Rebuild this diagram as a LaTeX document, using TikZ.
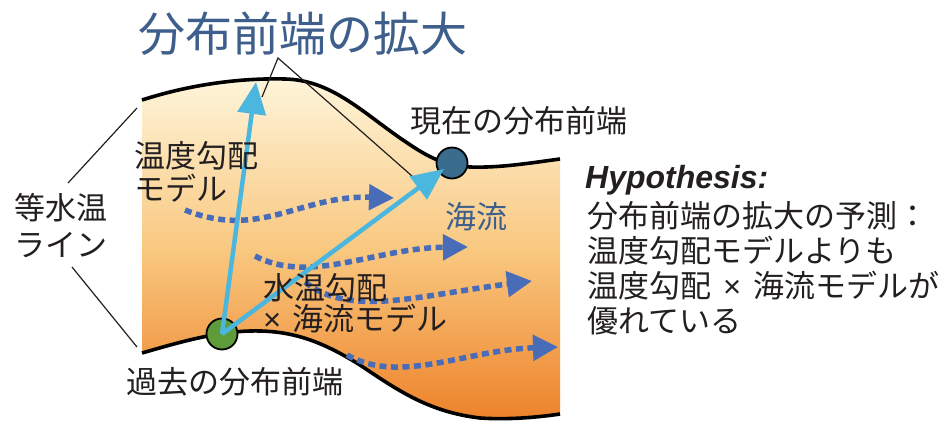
\documentclass[tikz,border=0pt]{standalone}
\usepackage{fontspec}
\setmainfont{Noto Sans CJK JP}
\newfontfamily\hypfont{Liberation Sans}
\usetikzlibrary{arrows.meta}
\definecolor{titleblue}{RGB}{62,95,139}
\definecolor{flowblue}{RGB}{72,108,184}
\definecolor{cyanarrow}{RGB}{75,182,222}
\definecolor{pastgreen}{RGB}{94,156,58}
\definecolor{nowblue}{RGB}{58,108,142}
\definecolor{bandtop}{RGB}{254,245,218}
\definecolor{bandmid}{RGB}{249,200,128}
\definecolor{bandbot}{RGB}{237,130,42}
\definecolor{inkblack}{RGB}{35,31,32}
\begin{document}
\begin{tikzpicture}[x=1pt,y=-1pt,
  lbl/.style={inner sep=0pt, font=\fontsize{31}{34}\selectfont, text=inkblack},
  boundary/.style={line width=3.6pt, draw=black},
  leader/.style={line width=1.2pt, draw=inkblack},
  flow/.style={line width=5.5pt, draw=flowblue, dash pattern=on 7pt off 4.5pt,
    -{Triangle[length=25pt,width=25pt,fill=flowblue]}},
  expand/.style={line width=4.5pt, draw=cyanarrow,
    -{Triangle[length=32pt,width=28pt,fill=cyanarrow]}},
  front/.style={circle, draw=black, line width=1.8pt, minimum size=31pt, inner sep=0pt}
]
\useasboundingbox (0,0) rectangle (945,424);
\fill[white] (0,0) rectangle (945,424);

% band
\shade[top color=bandtop, bottom color=bandbot, middle color=bandmid]
  (142,100) .. controls (195,83) and (245,78) .. (285,79)
  .. controls (330,80) and (360,110) .. (400,138)
  .. controls (425,155) and (440,165) .. (470,167)
  .. controls (500,168) and (530,163) .. (560,159)
  -- (560,414)
  .. controls (540,417) and (510,420) .. (480,418)
  .. controls (430,412) and (400,392) .. (360,365)
  .. controls (320,340) and (290,330) .. (250,331)
  .. controls (215,332) and (180,342) .. (142,353) -- cycle;

\draw[boundary]
  (142,100) .. controls (195,83) and (245,78) .. (285,79)
  .. controls (330,80) and (360,110) .. (400,138)
  .. controls (425,155) and (440,165) .. (470,167)
  .. controls (500,168) and (530,163) .. (560,159);
\draw[boundary]
  (142,353) .. controls (180,342) and (215,332) .. (250,331)
  .. controls (290,330) and (320,340) .. (360,365)
  .. controls (400,392) and (430,412) .. (480,418)
  .. controls (510,420) and (540,417) .. (560,414);

% title and leaders
\node[inner sep=0pt, font=\fontsize{47}{50}\selectfont, text=titleblue] (title) at (303,34) {分布前端の拡大};
\coordinate (tj) at (278,58);
\coordinate (tl) at (262,97);
\coordinate (tr) at (412,176);
\draw[leader] (tl) -- (tj) -- (tr);

% isotherm label and leaders
\node[lbl, align=center, font=\fontsize{31}{37}\selectfont] (iso) at (61,226) {等水温\\ライン};
\coordinate (isoA) at (68,183);
\coordinate (isoB) at (137,108);
\coordinate (isoC) at (72,267);
\coordinate (isoD) at (137,347);
\draw[leader] (isoA) -- (isoB);
\draw[leader] (isoC) -- (isoD);

% current flows
\coordinate (f1s) at (185,210); \coordinate (f1e) at (394,198);
\coordinate (f2s) at (255,256); \coordinate (f2e) at (468,247);
\coordinate (f3s) at (305,282); \coordinate (f3e) at (532,281);
\coordinate (f4s) at (347,355); \coordinate (f4e) at (558,347);
\draw[flow] (f1s) .. controls (260,240) and (300,195) .. (f1e);
\draw[flow] (f2s) .. controls (310,285) and (375,248) .. (f2e);
\draw[flow] (f3s) .. controls (350,318) and (420,295) .. (f3e);
\draw[flow] (f4s) .. controls (400,385) and (465,350) .. (f4e);

% fronts
\node[front, fill=pastgreen] (past) at (222,334) {};
\node[front, fill=nowblue] (now) at (452,163) {};

% expansion arrows
\coordinate (exptip) at (256,82);
\draw[expand] (past.center) -- (exptip);
\draw[expand, shorten >=10pt] (past.center) -- (now.center);

% labels
\node[lbl, anchor=west] (nowlbl) at (410,121) {現在の分布前端};
\node[lbl, anchor=west] (pastlbl) at (126,382) {過去の分布前端};
\node[lbl, anchor=west, align=left, font=\fontsize{31}{33}\selectfont] (gradlbl) at (134,172) {温度勾配\\モデル};
\node[lbl, anchor=west, align=left, font=\fontsize{31}{31}\selectfont] (comblbl) at (263,303) {水温勾配\\{\hypfont\fontsize{31}{31}\selectfont ×}\hspace{11pt}海流モデル};
\node[lbl, text=titleblue] (curlbl) at (476,217) {海流};

% hypothesis
\node[inner sep=0pt, anchor=west, text=inkblack, font=\hypfont\bfseries\itshape\fontsize{32}{34}\selectfont] (hyp) at (585,180) {Hypothesis:};
\node[lbl, anchor=west, align=left, font=\fontsize{31}{35}\selectfont] (hypbody) at (587,268)
  {分布前端の拡大の予測：\\温度勾配モデルよりも\\温度勾配\hspace{12pt}{\hypfont\fontsize{31}{35}\selectfont ×}\hspace{12pt}海流モデルが\\優れている};
\end{tikzpicture}
\end{document}
